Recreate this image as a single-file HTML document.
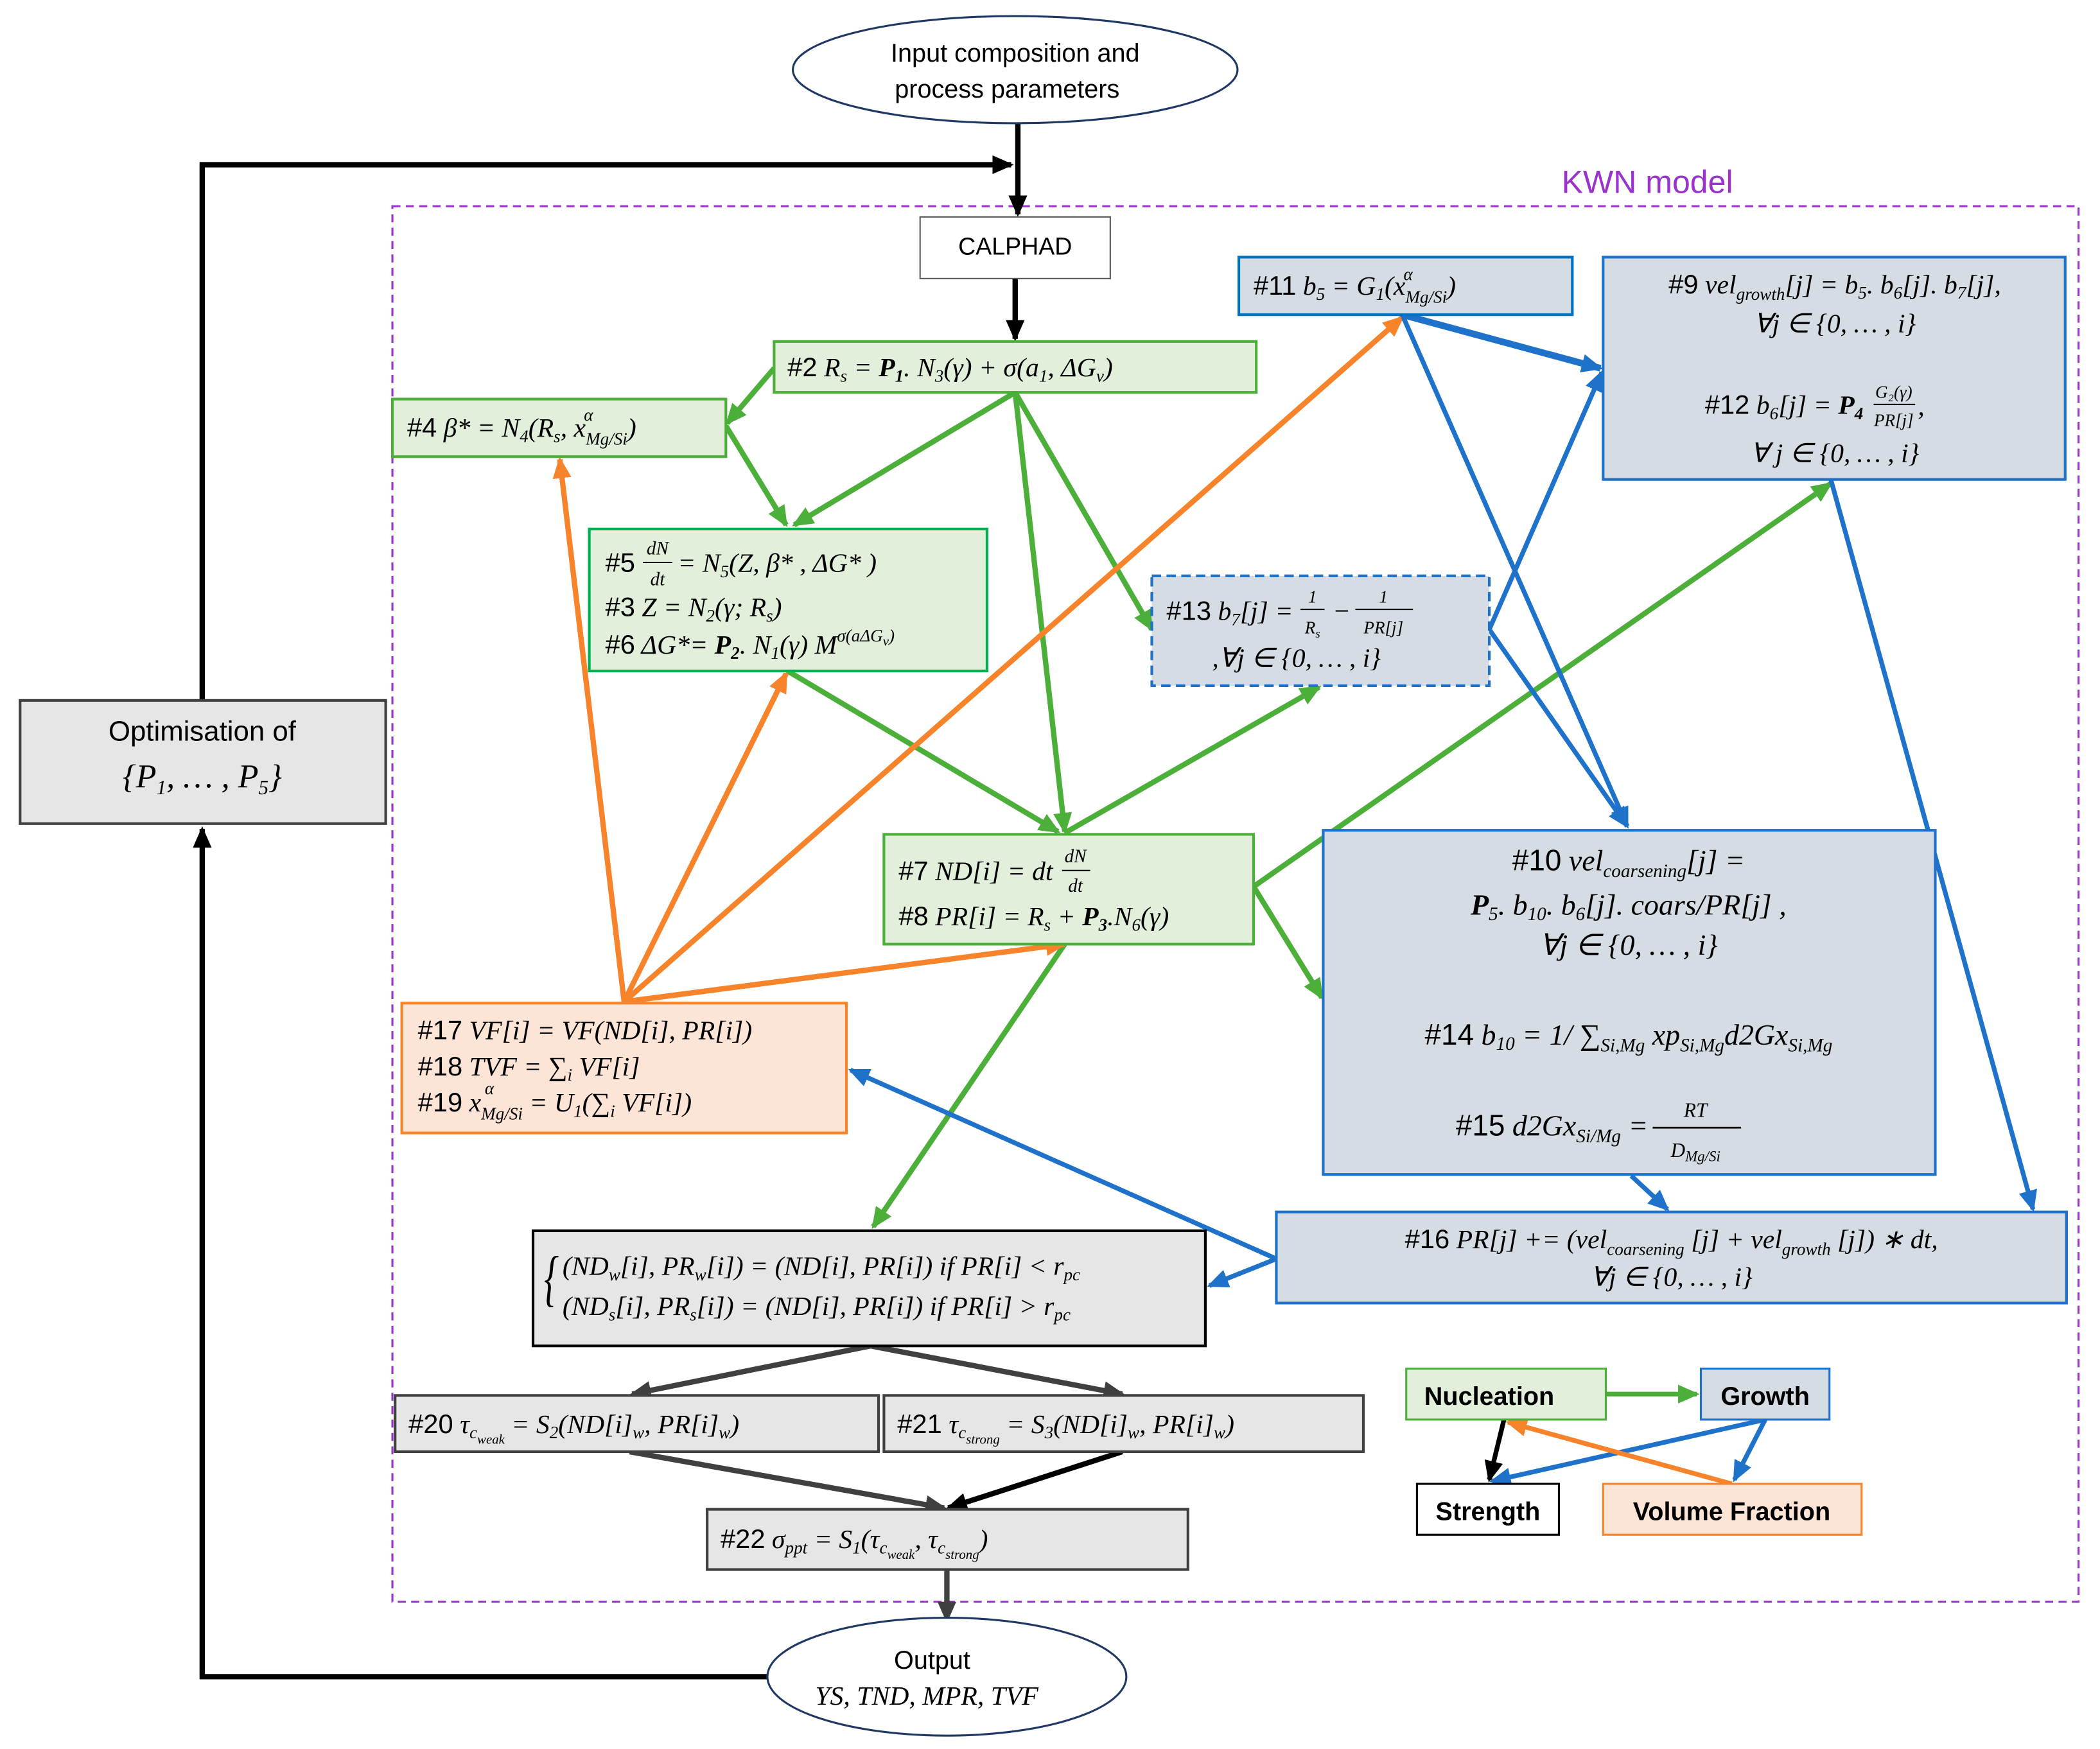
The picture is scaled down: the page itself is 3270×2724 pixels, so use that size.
<!DOCTYPE html>
<html><head><meta charset="utf-8"><style>
html,body{margin:0;padding:0;background:#fff;}
svg{display:block;}
.m{font-family:"Liberation Serif",serif;font-style:italic;}
.s{font-family:"Liberation Sans",sans-serif;font-style:normal;}
</style></head><body>
<svg width="3270" height="2724" viewBox="0 0 1568 1306" preserveAspectRatio="none" xmlns="http://www.w3.org/2000/svg">
<defs>
<marker id="ak" markerUnits="userSpaceOnUse" markerWidth="16" markerHeight="16" refX="14" refY="8" orient="auto"><path d="M0,1 L16,8 L0,15 z" fill="#000"/></marker>
<marker id="ad" markerUnits="userSpaceOnUse" markerWidth="16" markerHeight="16" refX="14" refY="8" orient="auto"><path d="M0,1 L16,8 L0,15 z" fill="#404040"/></marker>
<marker id="ag" markerUnits="userSpaceOnUse" markerWidth="16" markerHeight="16" refX="14" refY="8" orient="auto"><path d="M0,1 L16,8 L0,15 z" fill="#4caf3a"/></marker>
<marker id="ab" markerUnits="userSpaceOnUse" markerWidth="16" markerHeight="16" refX="14" refY="8" orient="auto"><path d="M0,1 L16,8 L0,15 z" fill="#1f72c9"/></marker>
<marker id="ao" markerUnits="userSpaceOnUse" markerWidth="16" markerHeight="16" refX="14" refY="8" orient="auto"><path d="M0,1 L16,8 L0,15 z" fill="#f7832a"/></marker>
</defs>

<rect x="293" y="154" width="1259" height="1042" fill="none" stroke="#9933cc" stroke-width="1.5" stroke-dasharray="6,4"/>
<text x="1230" y="144" font-size="24" fill="#9933cc" class="s" text-anchor="middle">KWN model</text>

<g stroke="#000" stroke-width="4" fill="none">
<line x1="760" y1="92" x2="760" y2="160" marker-end="url(#ak)"/>
<polyline points="151,523 151,123 755,123" marker-end="url(#ak)"/>
<polyline points="573,1252 151,1252 151,619" marker-end="url(#ak)"/>
<line x1="758" y1="208" x2="758" y2="253" marker-end="url(#ak)"/>
</g>

<g stroke="#4caf3a" stroke-width="4" fill="none">
<line x1="578" y1="275" x2="543" y2="316" marker-end="url(#ag)"/>
<line x1="542" y1="318" x2="587" y2="392" marker-end="url(#ag)"/>
<line x1="758" y1="293" x2="593" y2="392" marker-end="url(#ag)"/>
<line x1="758" y1="293" x2="795" y2="621" marker-end="url(#ag)"/>
<line x1="758" y1="293" x2="860" y2="470" marker-end="url(#ag)"/>
<line x1="588" y1="501" x2="790" y2="621" marker-end="url(#ag)"/>
<line x1="795" y1="622" x2="985" y2="513" marker-end="url(#ag)"/>
<line x1="936" y1="662" x2="1367" y2="361" marker-end="url(#ag)"/>
<line x1="936" y1="662" x2="987" y2="745" marker-end="url(#ag)"/>
<line x1="795" y1="705" x2="652" y2="916" marker-end="url(#ag)"/>
</g>
<g stroke="#f7832a" stroke-width="4" fill="none">
<line x1="466" y1="748" x2="418" y2="343" marker-end="url(#ao)"/>
<line x1="466" y1="748" x2="587" y2="503" marker-end="url(#ao)"/>
<line x1="466" y1="748" x2="1047" y2="237" marker-end="url(#ao)"/>
<line x1="466" y1="748" x2="795" y2="705" marker-end="url(#ao)"/>
</g>
<g stroke="#1f72c9" stroke-width="3.5" fill="none">
<line x1="1047" y1="235" x2="1195" y2="275" marker-end="url(#ab)" stroke-width="5"/>
<line x1="1047" y1="235" x2="1215" y2="617" marker-end="url(#ab)"/>
<polyline points="1112,470 1196,278" marker-end="url(#ab)"/>
<line x1="1112" y1="470" x2="1215" y2="617" marker-end="url(#ab)"/>
<line x1="1367" y1="358" x2="1518" y2="903" marker-end="url(#ab)"/>
<line x1="1218" y1="878" x2="1245" y2="903" marker-end="url(#ab)"/>
<line x1="953" y1="940" x2="635" y2="799" marker-end="url(#ab)"/>
<line x1="953" y1="940" x2="903" y2="960" marker-end="url(#ab)"/>
</g>
<g stroke="#404040" stroke-width="4" fill="none">
<line x1="650" y1="1005" x2="472" y2="1041" marker-end="url(#ad)"/>
<line x1="650" y1="1005" x2="838" y2="1041" marker-end="url(#ad)"/>
<line x1="470" y1="1084" x2="705" y2="1126" marker-end="url(#ad)"/>
<line x1="838" y1="1084" x2="708" y2="1126" marker-end="url(#ak)" stroke="#000"/>
<line x1="707" y1="1172" x2="707" y2="1210" marker-end="url(#ad)"/>
</g>

<ellipse cx="758" cy="52" rx="166" ry="40" fill="#fff" stroke="#1f3864" stroke-width="1.5"/>
<text x="758" y="46" font-size="19" text-anchor="middle" class="s">Input composition and</text>
<text x="752" y="73" font-size="19" text-anchor="middle" class="s">process parameters</text>
<ellipse cx="707" cy="1252" rx="134" ry="44" fill="#fff" stroke="#1f3864" stroke-width="1.5"/>
<text x="696" y="1246" font-size="19" text-anchor="middle" class="s">Output</text>
<text x="692" y="1273" font-size="20" text-anchor="middle" class="m">YS, TND, MPR, TVF</text>

<rect x="15" y="523" width="273" height="92" fill="#e7e6e6" stroke="#404040" stroke-width="2"/>
<text x="151" y="553" font-size="21" text-anchor="middle" class="s">Optimisation of</text>
<text x="151" y="588" font-size="25" text-anchor="middle" class="m">{P<tspan font-size="15" dy="5">1</tspan><tspan dy="-5">, … , P</tspan><tspan font-size="15" dy="5">5</tspan><tspan dy="-5">}</tspan></text>

<rect x="687" y="162" width="142" height="46" fill="#fff" stroke="#595959" stroke-width="1"/>
<text x="758" y="190" font-size="18" text-anchor="middle" class="s">CALPHAD</text>

<rect x="578" y="255" width="360" height="38" fill="#e2efda" stroke="#4caf3a" stroke-width="2"/>
<text x="588" y="281" font-size="20" class="m"><tspan class="s">#2</tspan> R<tspan font-size="13" dy="4">s</tspan><tspan dy="-4"> = </tspan><tspan font-weight="bold">P</tspan><tspan font-size="13" dy="4" font-weight="bold">1</tspan><tspan dy="-4">. N</tspan><tspan font-size="13" dy="4">3</tspan><tspan dy="-4">(γ) + σ(a</tspan><tspan font-size="13" dy="4">1</tspan><tspan dy="-4">, ΔG</tspan><tspan font-size="13" dy="4">v</tspan><tspan dy="-4">)</tspan></text>

<rect x="293" y="298" width="249" height="43" fill="#e2efda" stroke="#4caf3a" stroke-width="2"/>
<text x="304" y="326" font-size="20" class="m"><tspan class="s">#4</tspan> β* = N<tspan font-size="13" dy="4">4</tspan><tspan dy="-4">(R</tspan><tspan font-size="13" dy="4">s</tspan><tspan dy="-4">, x</tspan><tspan font-size="13" dy="6">Mg/Si</tspan><tspan dy="-6">)</tspan></text>
<text x="436" y="314" font-size="13" class="m">α</text>

<rect x="440" y="395" width="297" height="106" fill="#e2efda" stroke="#00b050" stroke-width="2"/>
<text x="452" y="427" font-size="20" class="m"><tspan class="s">#5</tspan></text>
<text x="491" y="414" font-size="14" class="m" text-anchor="middle">dN</text>
<line x1="480" y1="420" x2="502" y2="420" stroke="#000" stroke-width="1"/>
<text x="491" y="437" font-size="14" class="m" text-anchor="middle">dt</text>
<text x="506" y="427" font-size="20" class="m">= N<tspan font-size="13" dy="4">5</tspan><tspan dy="-4">(Z, β* , ΔG* )</tspan></text>
<text x="452" y="460" font-size="20" class="m"><tspan class="s">#3</tspan> Z = N<tspan font-size="13" dy="4">2</tspan><tspan dy="-4">(γ; R</tspan><tspan font-size="13" dy="4">s</tspan><tspan dy="-4">)</tspan></text>
<text x="452" y="488" font-size="20" class="m"><tspan class="s">#6</tspan> ΔG*= <tspan font-weight="bold">P</tspan><tspan font-size="13" dy="4" font-weight="bold">2</tspan><tspan dy="-4">. N</tspan><tspan font-size="13" dy="4">1</tspan><tspan dy="-4">(γ) M</tspan><tspan font-size="13" dy="-9">σ(aΔG</tspan><tspan font-size="10" dy="3">v</tspan><tspan font-size="13" dy="-3">)</tspan></text>

<rect x="660" y="623" width="276" height="82" fill="#e2efda" stroke="#4caf3a" stroke-width="2"/>
<text x="671" y="657" font-size="20" class="m"><tspan class="s">#7</tspan> ND[i] = dt</text>
<text x="803" y="644" font-size="14" class="m" text-anchor="middle">dN</text>
<line x1="793" y1="650" x2="814" y2="650" stroke="#000" stroke-width="1"/>
<text x="803" y="666" font-size="14" class="m" text-anchor="middle">dt</text>
<text x="671" y="691" font-size="20" class="m"><tspan class="s">#8</tspan> PR[i] = R<tspan font-size="13" dy="4">s</tspan><tspan dy="-4"> + </tspan><tspan font-weight="bold">P</tspan><tspan font-size="13" dy="4" font-weight="bold">3</tspan><tspan dy="-4">.N</tspan><tspan font-size="13" dy="4">6</tspan><tspan dy="-4">(γ)</tspan></text>

<rect x="925" y="192" width="249" height="43" fill="#d6dce4" stroke="#0070c0" stroke-width="2"/>
<text x="936" y="220" font-size="20" class="m"><tspan class="s">#11</tspan> b<tspan font-size="13" dy="4">5</tspan><tspan dy="-4"> = G</tspan><tspan font-size="13" dy="4">1</tspan><tspan dy="-4">(x</tspan><tspan font-size="13" dy="6">Mg/Si</tspan><tspan dy="-6">)</tspan></text>
<text x="1048" y="209" font-size="13" class="m">α</text>

<rect x="1197" y="192" width="345" height="166" fill="#d6dce4" stroke="#1f72c9" stroke-width="2"/>
<text x="1370" y="219" font-size="20" class="m" text-anchor="middle"><tspan class="s">#9</tspan> vel<tspan font-size="13" dy="5">growth</tspan><tspan dy="-5">[j] = b</tspan><tspan font-size="13" dy="4">5</tspan><tspan dy="-4">. b</tspan><tspan font-size="13" dy="4">6</tspan><tspan dy="-4">[j]. b</tspan><tspan font-size="13" dy="4">7</tspan><tspan dy="-4">[j],</tspan></text>
<text x="1370" y="248" font-size="20" class="m" text-anchor="middle">∀j ∈ {0, … , i}</text>
<text x="1273" y="309" font-size="20" class="m"><tspan class="s">#12</tspan> b<tspan font-size="13" dy="4">6</tspan><tspan dy="-4">[j] = </tspan><tspan font-weight="bold">P</tspan><tspan font-size="13" dy="4" font-weight="bold">4</tspan></text>
<text x="1414" y="297" font-size="13" class="m" text-anchor="middle">G₂(γ)</text>
<line x1="1399" y1="302" x2="1430" y2="302" stroke="#000" stroke-width="1"/>
<text x="1414" y="318" font-size="13" class="m" text-anchor="middle">PR[j]</text>
<text x="1432" y="310" font-size="20" class="m">,</text>
<text x="1370" y="345" font-size="20" class="m" text-anchor="middle">∀ j ∈ {0, … , i}</text>

<rect x="860" y="430" width="252" height="82" fill="#d6dce4" stroke="#1f72c9" stroke-width="2" stroke-dasharray="7,4"/>
<text x="871" y="463" font-size="20" class="m"><tspan class="s">#13</tspan> b<tspan font-size="13" dy="4">7</tspan><tspan dy="-4">[j] = </tspan></text>
<text x="980" y="450" font-size="13" class="m" text-anchor="middle">1</text>
<line x1="971" y1="455" x2="989" y2="455" stroke="#000" stroke-width="1"/>
<text x="980" y="473" font-size="13" class="m" text-anchor="middle">R<tspan font-size="9" dy="3">s</tspan></text>
<text x="995" y="463" font-size="20" class="m">−</text>
<text x="1033" y="450" font-size="13" class="m" text-anchor="middle">1</text>
<line x1="1012" y1="455" x2="1055" y2="455" stroke="#000" stroke-width="1"/>
<text x="1033" y="473" font-size="13" class="m" text-anchor="middle">PR[j]</text>
<text x="905" y="498" font-size="20" class="m">,∀j ∈ {0, … , i}</text>

<rect x="988" y="620" width="457" height="257" fill="#d6dce4" stroke="#1f72c9" stroke-width="2"/>
<text x="1216" y="650" font-size="22" class="m" text-anchor="middle"><tspan class="s">#10</tspan> vel<tspan font-size="14" dy="5">coarsening</tspan><tspan dy="-5">[j] =</tspan></text>
<text x="1216" y="683" font-size="22" class="m" text-anchor="middle"><tspan font-weight="bold">P</tspan><tspan font-size="14" dy="4">5</tspan><tspan dy="-4">. b</tspan><tspan font-size="14" dy="4">10</tspan><tspan dy="-4">. b</tspan><tspan font-size="14" dy="4">6</tspan><tspan dy="-4">[j]. coars/PR[j] ,</tspan></text>
<text x="1216" y="713" font-size="22" class="m" text-anchor="middle">∀j ∈ {0, … , i}</text>
<text x="1216" y="780" font-size="22" class="m" text-anchor="middle"><tspan class="s">#14</tspan> b<tspan font-size="14" dy="4">10</tspan><tspan dy="-4"> = 1/ ∑</tspan><tspan font-size="14" dy="5">Si,Mg</tspan><tspan dy="-5"> xp</tspan><tspan font-size="14" dy="5">Si,Mg</tspan><tspan dy="-5">d2Gx</tspan><tspan font-size="14" dy="5">Si,Mg</tspan></text>
<text x="1087" y="848" font-size="22" class="m"><tspan class="s">#15</tspan> d2Gx<tspan font-size="14" dy="5">Si/Mg</tspan><tspan dy="-5"> =</tspan></text>
<text x="1266" y="834" font-size="15" class="m" text-anchor="middle">RT</text>
<line x1="1234" y1="842" x2="1300" y2="842" stroke="#000" stroke-width="1.3"/>
<text x="1266" y="864" font-size="15" class="m" text-anchor="middle">D<tspan font-size="11" dy="3">Mg/Si</tspan></text>

<rect x="953" y="905" width="590" height="68" fill="#d6dce4" stroke="#1f72c9" stroke-width="2"/>
<text x="1248" y="932" font-size="20" class="m" text-anchor="middle"><tspan class="s">#16</tspan> PR[j] += (vel<tspan font-size="13" dy="5">coarsening</tspan><tspan dy="-5"> [j] + vel</tspan><tspan font-size="13" dy="5">growth</tspan><tspan dy="-5"> [j]) ∗ dt,</tspan></text>
<text x="1248" y="960" font-size="20" class="m" text-anchor="middle">∀j ∈ {0, … , i}</text>

<rect x="300" y="749" width="332" height="97" fill="#fce4d6" stroke="#f7832a" stroke-width="2"/>
<text x="312" y="776" font-size="20" class="m"><tspan class="s">#17</tspan> VF[i] = VF(ND[i], PR[i])</text>
<text x="312" y="803" font-size="20" class="m"><tspan class="s">#18</tspan> TVF = ∑<tspan font-size="13" dy="4">i</tspan><tspan dy="-4"> VF[i]</tspan></text>
<text x="312" y="830" font-size="20" class="m"><tspan class="s">#19</tspan> x<tspan font-size="13" dy="6">Mg/Si</tspan><tspan dy="-6"> = U</tspan><tspan font-size="13" dy="4">1</tspan><tspan dy="-4">(∑</tspan><tspan font-size="13" dy="4">i</tspan><tspan dy="-4"> VF[i])</tspan></text>
<text x="362" y="817" font-size="13" class="m">α</text>

<rect x="398" y="919" width="502" height="86" fill="#e7e6e6" stroke="#000" stroke-width="2"/>
<text x="406" y="970" font-size="46" class="m" font-style="normal" fill="#000" transform="scale(0.6,1) translate(271,0)">{</text>
<text x="420" y="952" font-size="20" class="m">(ND<tspan font-size="13" dy="4">w</tspan><tspan dy="-4">[i], PR</tspan><tspan font-size="13" dy="4">w</tspan><tspan dy="-4">[i]) = (ND[i], PR[i]) if PR[i] &lt; r</tspan><tspan font-size="13" dy="4">pc</tspan></text>
<text x="420" y="982" font-size="20" class="m">(ND<tspan font-size="13" dy="4">s</tspan><tspan dy="-4">[i], PR</tspan><tspan font-size="13" dy="4">s</tspan><tspan dy="-4">[i]) = (ND[i], PR[i]) if PR[i] &gt; r</tspan><tspan font-size="13" dy="4">pc</tspan></text>

<rect x="295" y="1042" width="361" height="42" fill="#e7e6e6" stroke="#404040" stroke-width="2"/>
<text x="305" y="1070" font-size="20" class="m"><tspan class="s">#20</tspan> τ<tspan font-size="13" dy="4">c</tspan><tspan font-size="10" dy="4">weak</tspan><tspan dy="-8"> = S</tspan><tspan font-size="13" dy="4">2</tspan><tspan dy="-4">(ND[i]</tspan><tspan font-size="13" dy="4">w</tspan><tspan dy="-4">, PR[i]</tspan><tspan font-size="13" dy="4">w</tspan><tspan dy="-4">)</tspan></text>
<rect x="660" y="1042" width="358" height="42" fill="#e7e6e6" stroke="#404040" stroke-width="2"/>
<text x="670" y="1070" font-size="20" class="m"><tspan class="s">#21</tspan> τ<tspan font-size="13" dy="4">c</tspan><tspan font-size="10" dy="4">strong</tspan><tspan dy="-8"> = S</tspan><tspan font-size="13" dy="4">3</tspan><tspan dy="-4">(ND[i]</tspan><tspan font-size="13" dy="4">w</tspan><tspan dy="-4">, PR[i]</tspan><tspan font-size="13" dy="4">w</tspan><tspan dy="-4">)</tspan></text>
<rect x="528" y="1127" width="359" height="45" fill="#e7e6e6" stroke="#404040" stroke-width="2"/>
<text x="538" y="1156" font-size="20" class="m"><tspan class="s">#22</tspan> σ<tspan font-size="13" dy="4">ppt</tspan><tspan dy="-4"> = S</tspan><tspan font-size="13" dy="4">1</tspan><tspan dy="-4">(τ</tspan><tspan font-size="13" dy="4">c</tspan><tspan font-size="10" dy="4">weak</tspan><tspan dy="-8">, τ</tspan><tspan font-size="13" dy="4">c</tspan><tspan font-size="10" dy="4">strong</tspan><tspan dy="-8">)</tspan></text>

<g stroke-width="3.5" fill="none">
<line x1="1199" y1="1041" x2="1267" y2="1041" stroke="#4caf3a" marker-end="url(#ag)"/>
<line x1="1123" y1="1060" x2="1112" y2="1105" stroke="#000" marker-end="url(#ak)"/>
<line x1="1318" y1="1060" x2="1114" y2="1106" stroke="#1f72c9" marker-end="url(#ab)"/>
<line x1="1318" y1="1060" x2="1295" y2="1105" stroke="#1f72c9" marker-end="url(#ab)"/>
<line x1="1293" y1="1108" x2="1126" y2="1062" stroke="#f7832a" marker-end="url(#ao)"/>
</g>
<rect x="1050" y="1022" width="149" height="38" fill="#e2efda" stroke="#4caf3a" stroke-width="1.5"/>
<text x="1112" y="1049" font-size="19" font-weight="bold" text-anchor="middle" class="s">Nucleation</text>
<rect x="1270" y="1022" width="96" height="38" fill="#d6dce4" stroke="#1f72c9" stroke-width="1.5"/>
<text x="1318" y="1049" font-size="19" font-weight="bold" text-anchor="middle" class="s">Growth</text>
<rect x="1058" y="1108" width="106" height="38" fill="#fff" stroke="#000" stroke-width="1.5"/>
<text x="1111" y="1135" font-size="19" font-weight="bold" text-anchor="middle" class="s">Strength</text>
<rect x="1197" y="1108" width="193" height="38" fill="#fce4d6" stroke="#f7832a" stroke-width="1.5"/>
<text x="1293" y="1135" font-size="19" font-weight="bold" text-anchor="middle" class="s">Volume Fraction</text>
</svg>
</body></html>
